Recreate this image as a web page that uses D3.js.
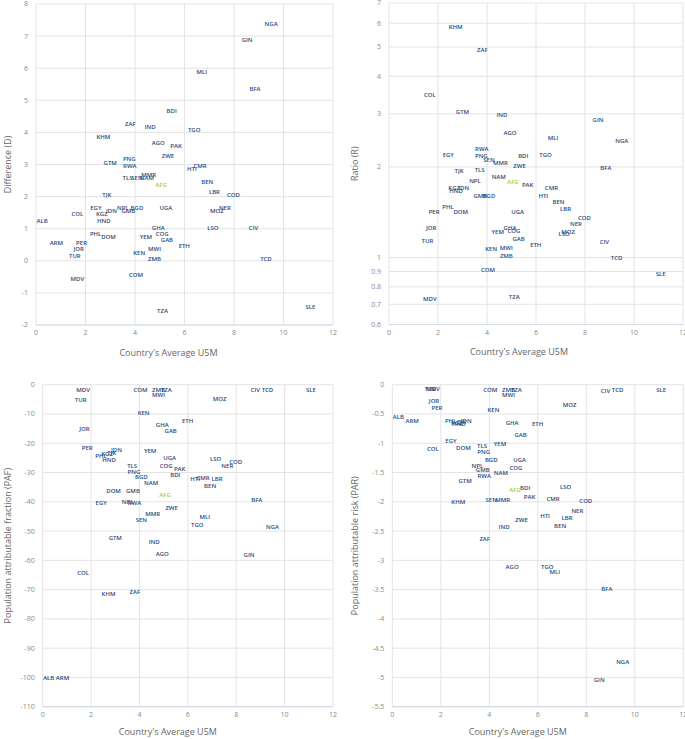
<!DOCTYPE html>
<html><head><meta charset="utf-8">
<script src="https://cdn.jsdelivr.net/npm/d3@7"></script>
<style>
body{margin:0;background:#fff;}
svg{display:block;font-family:"Open Sans","Noto Sans",sans-serif;}
</style></head><body>
<svg id="c" width="685" height="739"></svg>
<script>
const countries = ["NGA","GIN","MLI","BFA","BDI","ZAF","IND","TGO","KHM","AGO","PAK","ZWE","GTM","PNG","RWA","HTI","CMR","TLS","SEN","NAM","MMR","AFG","BEN","TJK","LBR","COD","EGY","NPL","BGD","UGA","NER","COL","KGZ","IDN","GMB","MOZ","ALB","HND","GHA","LSO","CIV","PHL","COG","DOM","YEM","GAB","ARM","PER","ETH","JOR","MWI","KEN","TUR","ZMB","TCD","MDV","COM","TZA","SLE"];
const u5m = [9.50,8.53,6.70,8.85,5.48,3.81,4.61,6.39,2.72,4.94,5.66,5.33,3.00,3.77,3.79,6.30,6.63,3.70,4.08,4.48,4.55,5.06,6.92,2.86,7.21,7.98,2.42,3.51,4.08,5.25,7.63,1.67,2.66,3.05,3.73,7.31,0.25,2.74,4.94,7.15,8.79,2.41,5.10,2.93,4.44,5.29,0.82,1.84,5.99,1.72,4.79,4.17,1.57,4.79,9.29,1.67,4.04,5.11,11.09];
const difference = [7.38,6.87,5.87,5.37,4.67,4.26,4.17,4.07,3.87,3.66,3.58,3.27,3.06,3.16,2.96,2.86,2.96,2.57,2.57,2.57,2.68,2.36,2.45,2.05,2.15,2.05,1.65,1.65,1.65,1.65,1.65,1.46,1.46,1.55,1.55,1.55,1.25,1.25,1.04,1.04,1.04,0.85,0.85,0.75,0.75,0.65,0.56,0.56,0.45,0.36,0.37,0.26,0.16,0.05,0.05,-0.55,-0.44,-1.55,-1.45];
const ratio = [2.44,2.86,2.50,1.99,2.17,4.89,2.98,2.19,5.83,2.59,1.74,2.02,3.05,2.18,2.30,1.60,1.70,1.95,2.11,1.85,2.07,1.78,1.53,1.94,1.45,1.36,2.20,1.80,1.60,1.42,1.29,3.48,1.70,1.71,1.60,1.22,null,1.67,1.26,1.20,1.13,1.47,1.23,1.42,1.22,1.15,null,1.42,1.10,1.26,1.08,1.07,1.14,1.01,1.00,0.73,0.91,0.74,0.88];
const paf = [-48.5,-58.1,-45.3,-39.4,-30.7,-70.8,-53.7,-48.0,-71.6,-57.8,-28.9,-42.2,-52.5,-29.8,-40.5,-32.1,-31.9,-27.8,-46.2,-33.7,-44.1,-37.6,-34.6,-23.2,-32.2,-26.4,-40.5,-40.0,-31.5,-25.0,-27.7,-64.4,-23.8,-22.2,-36.2,-4.9,-100,-25.8,-13.8,-25.4,-1.7,-24.3,-27.8,-36.2,-22.5,-15.8,-100,-21.7,-12.4,-15.1,-3.4,-9.8,-5.3,-1.7,-1.7,-1.7,-1.7,-1.7,-1.7];
const par = [-4.74,-5.04,-3.20,-3.48,-1.77,-2.63,-2.43,-3.11,-2.00,-3.12,-1.92,-2.31,-1.65,-1.14,-1.55,-2.24,-1.95,-1.04,-1.96,-1.51,-1.96,-1.80,-2.41,-0.64,-2.27,-1.99,-0.96,-1.38,-1.29,-1.29,-2.16,-1.09,-0.66,-0.62,-1.46,-0.34,-0.55,-0.67,-0.65,-1.75,-0.11,-0.62,-1.42,-1.08,-1.01,-0.85,-0.61,-0.40,-0.67,-0.27,-0.17,-0.43,-0.08,-0.09,-0.09,-0.08,-0.09,-0.09,-0.09];
const highlight = "AFG";

const xTicks = [0,2,4,6,8,10,12];
const dTicks = [-2,-1,0,1,2,3,4,5,6,7,8];
const rTicks = [0.6,0.7,0.8,0.9,1,2,3,4,5,6,7];
const pafTicks = [0,-10,-20,-30,-40,-50,-60,-70,-80,-90,-100,-110];
const parTicks = [0,-0.5,-1,-1.5,-2,-2.5,-3,-3.5,-4,-4.5,-5,-5.5];

const xTitle = "Country's Average U5M";
const svg = d3.select("#c");

function panel(o){
  const x = d3.scaleLinear().domain([0,12]).range([o.l,o.r]);
  const y = (o.log ? d3.scaleLog() : d3.scaleLinear()).domain(o.domain).range([o.b,o.t]);
  const g = svg.append("g");
  g.selectAll(".hg").data(o.ticks).join("line")
    .attr("x1",o.l).attr("x2",o.r).attr("y1",d=>y(d)).attr("y2",d=>y(d))
    .attr("stroke","#e4e4e4").attr("stroke-width",1);
  g.selectAll(".vg").data(xTicks).join("line")
    .attr("x1",d=>x(d)).attr("x2",d=>x(d)).attr("y1",o.t).attr("y2",o.b)
    .attr("stroke","#e4e4e4").attr("stroke-width",1);
  g.append("line").attr("x1",o.l).attr("x2",o.r).attr("y1",o.b).attr("y2",o.b)
    .attr("stroke","#d6dbe3").attr("stroke-width",1.2);
  g.selectAll(".yt").data(o.ticks).join("text")
    .attr("x",o.l-8).attr("y",d=>y(d)).attr("dy","0.35em")
    .attr("text-anchor","end").attr("font-size",7).attr("fill","#8a8a8a")
    .text(d=>d);
  g.selectAll(".xt").data(xTicks).join("text")
    .attr("x",d=>x(d)).attr("y",o.b+8).attr("dy","0.35em")
    .attr("text-anchor","middle").attr("font-size",7).attr("fill","#8a8a8a")
    .text(d=>d);
  g.append("text").attr("x",(o.l+o.r)/2 + o.tdx).attr("y",o.b+o.tdy).attr("dy","0.35em")
    .attr("text-anchor","middle").attr("font-size",9).attr("fill","#666")
    .text(xTitle);
  g.append("text").attr("transform",`translate(${o.yx},${(o.t+o.b)/2}) rotate(-90)`)
    .attr("dy","0.35em").attr("text-anchor","middle").attr("font-size",9).attr("fill","#666")
    .text(o.yTitle);
  const pts = countries.map((c,i)=>({c, x:u5m[i], v:o.vals[i]})).filter(p=>p.v!=null);
  g.selectAll(".lab").data(pts).join("text")
    .attr("x",d=>x(d.x)).attr("y",d=>y(d.v)).attr("dy","0.35em")
    .attr("text-anchor","middle").attr("font-size",6).attr("font-weight",600)
    .attr("fill",d=>d.c===highlight?"#a4cf2a":"#2b4a7c")
    .text(d=>d.c);
}

panel({l:36,r:333,t:4,b:325,domain:[-2,8],ticks:dTicks,vals:difference,yTitle:"Difference (D)",yx:8,tdx:-16,tdy:27.5});
panel({l:389,r:683,t:3,b:324.5,domain:[0.6,7],log:true,ticks:rTicks,vals:ratio,yTitle:"Ratio (R)",yx:355,tdx:-17,tdy:27.5});
panel({l:42.7,r:333,t:384.7,b:706.7,domain:[-110,0],ticks:pafTicks,vals:paf,yTitle:"Population attributable fraction (PAF)",yx:8,tdx:-20,tdy:25.5});
panel({l:392.3,r:683.3,t:384.7,b:706.7,domain:[-5.5,0],ticks:parTicks,vals:par,yTitle:"Population attributable risk (PAR)",yx:355,tdx:-20,tdy:25.5});
</script>
</body></html>
